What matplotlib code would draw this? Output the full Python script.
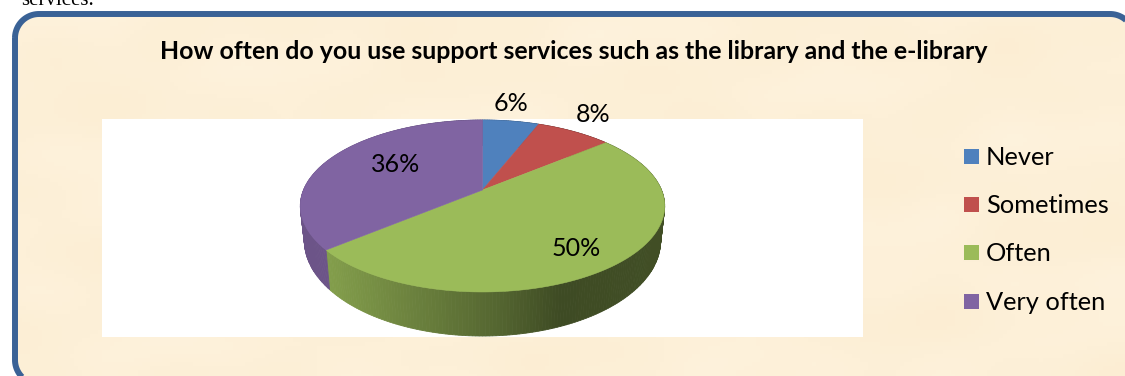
import matplotlib
matplotlib.use('Agg')
import matplotlib.pyplot as plt
import numpy as np
from matplotlib.patches import Polygon, Rectangle

# survey results
categories = ['Never', 'Sometimes', 'Often', 'Very often']
percent = [6, 8, 50, 36]
percent_labels = ['6%', '8%', '50%', '36%']
title = 'How often do you use support services such as the library and the e-library'

colors = ['#4f81bd', '#c0504d', '#9bbb59', '#8064a2']

# pie geometry in pixels, the tilt gives the disc its perspective
hub_x, hub_y = 482.5, 190
rad_x, rad_y = 179, 83
tilt = 0.186
low_hub_y = 223
low_rad_x, low_rad_y = 175, 92


def top_point(theta):
    w = 1 + tilt * np.cos(theta)
    return hub_x + rad_x * np.sin(theta) / w, hub_y - rad_y * np.cos(theta) / w


def low_point(theta):
    w = 1 + tilt * np.cos(theta)
    return hub_x + low_rad_x * np.sin(theta) / w, low_hub_y - low_rad_y * np.cos(theta) / w


# side of the pie gets darker towards the right
def side_shade(x):
    return np.interp(x, [330, 420, 500, 560, 665], [0.84, 0.68, 0.54, 0.40, 0.42])


# outline of a box with circular corners
def round_box(left, top, right, bottom, r):
    corners = [(left + r, top + r, 180), (right - r, top + r, 270),
               (right - r, bottom - r, 0), (left + r, bottom - r, 90)]
    pts = []
    for cx, cy, start in corners:
        ang = np.radians(np.linspace(start, start + 90, 24))
        pts += list(zip(cx + r * np.cos(ang), cy + r * np.sin(ang)))
    return pts


fig = plt.figure(figsize=(11.25, 3.76), dpi=100)
ax = fig.add_axes([0, 0, 1, 1])
ax.set_xlim(0, 1125)
ax.set_ylim(376, 0)
ax.axis('off')

# parchment background with soft blotches
xx, yy = np.meshgrid(np.arange(0, 1125, 4), np.arange(0, 376, 4))
blotch = (np.sin(xx / 47 + yy / 31) + np.sin(xx / 83 - yy / 23 + 1.3)
          + np.sin(xx / 19 + 2.1) * np.sin(yy / 27) * 0.7 + np.sin(xx / 131 + yy / 11) * 0.6) / 3.3
tex = np.zeros(xx.shape + (3,))
tex[..., 0] = 253 + blotch * 1
tex[..., 1] = 240 + blotch * 2.5
tex[..., 2] = 216 + blotch * 5
bg = ax.imshow(tex.clip(0, 255).astype(np.uint8), extent=(0, 1125, 376, 0), aspect='auto',
               interpolation='bilinear', zorder=1)
box_pts = round_box(15, 14, 1134, 384, 24)
clip_box = Polygon(box_pts, closed=True, fc='none', ec='none')
ax.add_patch(clip_box)
bg.set_clip_path(clip_box)
ax.add_patch(Polygon(box_pts, closed=True, fc='none', ec='#3a6296', lw=4.3, zorder=2))

# white plot area
ax.add_patch(Rectangle((102, 119), 761, 218, fc='white', ec='none', zorder=3))

edges = np.cumsum([0] + percent) / sum(percent) * 2 * np.pi

# rim first, then the top slices over it
for i in range(len(percent)):
    steps = max(int(percent[i] * 4), 8)
    t = np.linspace(edges[i], edges[i + 1], steps + 1)
    for a, b in zip(t[:-1], t[1:]):
        x1, y1 = top_point(a)
        x2, y2 = top_point(b)
        x3, y3 = low_point(b)
        x4, y4 = low_point(a)
        shade = side_shade((x1 + x2) / 2)
        c = np.array(matplotlib.colors.to_rgb(colors[i])) * shade
        ax.add_patch(Polygon([(x1, y1), (x2, y2), (x3, y3), (x4, y4)], closed=True,
                             fc=c, ec=c, lw=0.6, zorder=4))

for i in range(len(percent)):
    t = np.linspace(edges[i], edges[i + 1], 200)
    px, py = top_point(t)
    pts = [(hub_x, hub_y)] + list(zip(px, py))
    ax.add_patch(Polygon(pts, closed=True, fc=colors[i], ec=colors[i], lw=0.4, zorder=5))

# value labels
label_pos = [(511, 111), (593, 122), (576, 256), (396, 172)]
for txt, (lx, ly) in zip(percent_labels, label_pos):
    ax.text(lx, ly, txt, fontsize=18, family='Lato', ha='center', va='baseline',
            color='black', zorder=6)

# legend
legend_y = [157, 205, 253, 302]
for name, c, ly in zip(categories, colors, legend_y):
    ax.add_patch(Rectangle((964, ly - 8), 15, 15, fc=c, ec='none', zorder=6))
    ax.text(986, ly + 8, name, fontsize=18.3, family='Lato', ha='left', va='baseline',
            color='black', zorder=6)

ax.text(574, 59, title, fontsize=17.95, family='Lato', fontweight='bold',
        ha='center', va='baseline', color='black', zorder=6)

# last word of the paragraph above the box
ax.text(21, 5, 'services.', fontsize=15, family='Liberation Serif', ha='left',
        va='baseline', color='black', zorder=6)

fig.savefig('out.png', dpi=100)
